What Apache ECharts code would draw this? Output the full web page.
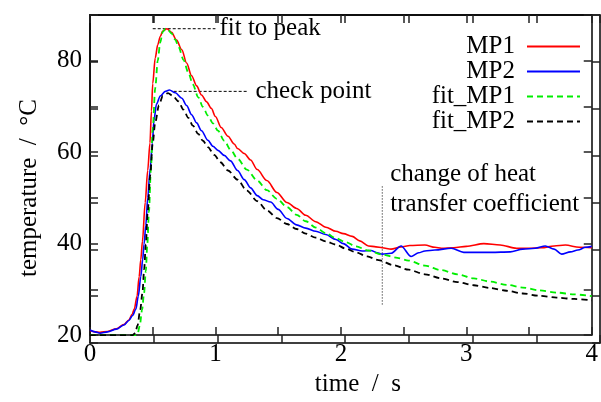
<!DOCTYPE html>
<html>
<head>
<meta charset="utf-8">
<script src="https://cdn.jsdelivr.net/npm/echarts@6/dist/echarts.min.js"></script>
<style>html,body{margin:0;padding:0;background:#fff;}#c{width:601px;height:402px;}</style>
</head>
<body>
<div id="c"></div>
<script>
// ---- data (time in s, temperature in °C) ----
const mp1Time = [0, 0.04, 0.08, 0.14, 0.21, 0.27, 0.31, 0.335, 0.353, 0.375, 0.392, 0.405, 0.418, 0.44, 0.46, 0.478, 0.49, 0.50, 0.52, 0.54, 0.56, 0.58, 0.614, 0.65, 0.69, 0.732, 0.77, 0.81, 0.85, 0.889, 0.93, 0.967, 1.0, 1.046, 1.1, 1.15, 1.176, 1.23, 1.28, 1.333, 1.41, 1.49, 1.57, 1.647, 1.72, 1.80, 1.88, 1.96, 2.02, 2.09, 2.15, 2.22, 2.28, 2.33, 2.40, 2.48, 2.55, 2.67, 2.75, 2.80, 2.90, 3.00, 3.14, 3.27, 3.40, 3.50, 3.60, 3.70, 3.79, 3.90, 4.00];
const mp1Temp = [21.0, 20.7, 20.6, 20.8, 21.4, 22.3, 23.3, 24.5, 25.7, 28.5, 32.8, 36.5, 40.5, 49, 56, 62, 69, 75, 80.6, 83.5, 85.3, 86.5, 87.0, 86.2, 84.5, 82.4, 79.5, 76.7, 74.5, 72.5, 71.0, 69.6, 67.8, 65.4, 63.5, 61.8, 60.8, 59.7, 58.3, 56.2, 53.8, 51.2, 49.0, 47.7, 46.2, 44.8, 43.6, 42.7, 42.2, 41.6, 40.6, 39.5, 39.3, 39.1, 38.8, 39.3, 39.6, 39.7, 39.2, 39.0, 39.1, 39.4, 40.0, 39.7, 39.0, 39.0, 39.1, 39.5, 39.7, 39.2, 39.1];

const mp2Time = [0, 0.04, 0.08, 0.14, 0.21, 0.27, 0.31, 0.34, 0.366, 0.385, 0.405, 0.42, 0.431, 0.445, 0.46, 0.48, 0.497, 0.51, 0.53, 0.56, 0.60, 0.633, 0.68, 0.732, 0.77, 0.81, 0.85, 0.889, 0.94, 0.98, 1.02, 1.07, 1.12, 1.176, 1.23, 1.28, 1.333, 1.38, 1.44, 1.50, 1.57, 1.647, 1.72, 1.80, 1.88, 1.96, 2.02, 2.09, 2.17, 2.24, 2.29, 2.33, 2.40, 2.48, 2.56, 2.62, 2.67, 2.75, 2.88, 2.98, 3.10, 3.20, 3.35, 3.45, 3.55, 3.63, 3.70, 3.76, 3.83, 3.89, 3.95, 4.00];
const mp2Temp = [21.1, 20.7, 20.4, 20.7, 21.3, 22.2, 23.2, 24.3, 25.7, 28.5, 32.8, 36.5, 39.9, 44, 50, 56.5, 62, 67, 70.5, 72.3, 73.3, 73.6, 73.0, 71.8, 70.2, 68.2, 66.4, 64.7, 62.6, 61.3, 60.4, 59.3, 58.1, 56.0, 54.0, 52.2, 50.5, 49.6, 49.1, 47.5, 45.5, 44.1, 43.4, 42.7, 42.0, 40.9, 40.0, 38.8, 38.4, 38.5, 38.0, 37.7, 37.9, 39.5, 37.2, 38.0, 38.4, 38.6, 39.0, 38.1, 38.1, 38.1, 38.2, 38.8, 39.0, 39.5, 38.8, 37.7, 38.2, 38.6, 39.2, 39.4];

const fit1Time = [0, 0.37, 0.38, 0.397, 0.415, 0.431, 0.445, 0.457, 0.47, 0.485, 0.50, 0.52, 0.54, 0.56, 0.58, 0.60, 0.62, 0.65, 0.68, 0.706, 0.745, 0.784, 0.82, 0.863, 0.90, 0.94, 0.98, 1.02, 1.07, 1.124, 1.176, 1.25, 1.333, 1.41, 1.49, 1.57, 1.647, 1.72, 1.80, 1.88, 1.96, 2.04, 2.12, 2.22, 2.33, 2.45, 2.54, 2.67, 2.80, 2.93, 3.06, 3.19, 3.32, 3.45, 3.58, 3.72, 3.86, 4.00];
const fit1Temp = [20, 20, 20.3, 22.1, 25.5, 29.2, 34, 39.9, 47, 56, 65, 74, 80, 84, 86.3, 87.0, 86.8, 86.0, 84.6, 83.0, 80.2, 77.4, 74.8, 72.0, 69.9, 68.0, 66.3, 64.7, 62.5, 60.4, 58.6, 56.2, 53.8, 51.7, 49.8, 48.0, 46.3, 44.9, 43.5, 42.3, 41.2, 40.3, 39.4, 38.5, 37.6, 36.9, 36.3, 35.2, 34.2, 33.3, 32.4, 31.7, 31.0, 30.4, 29.8, 29.3, 28.9, 28.5];

const fit2Time = [0, 0.34, 0.36, 0.379, 0.40, 0.418, 0.432, 0.445, 0.46, 0.48, 0.50, 0.52, 0.55, 0.58, 0.622, 0.66, 0.706, 0.745, 0.784, 0.82, 0.863, 0.90, 0.94, 0.99, 1.04, 1.10, 1.176, 1.25, 1.333, 1.41, 1.49, 1.57, 1.647, 1.72, 1.80, 1.88, 1.96, 2.04, 2.12, 2.21, 2.30, 2.42, 2.54, 2.67, 2.80, 2.93, 3.06, 3.19, 3.32, 3.45, 3.58, 3.72, 3.86, 4.00];
const fit2Temp = [20, 20, 20.4, 22.1, 25.5, 29.2, 34.5, 39.9, 47, 55, 62, 66.5, 70.3, 72.3, 72.9, 72.3, 71.1, 69.3, 67.5, 65.8, 64.0, 62.5, 61.1, 59.4, 57.8, 56.0, 54.0, 51.6, 49.3, 47.3, 45.6, 44.3, 43.2, 42.2, 41.3, 40.5, 39.8, 38.9, 38.1, 37.2, 36.4, 35.3, 34.3, 33.3, 32.4, 31.6, 30.9, 30.3, 29.7, 29.1, 28.6, 28.2, 27.9, 27.6];

// annotations (data coordinates)
const peakLineTime = [0.5, 1.0];
const peakLineTemp = [87, 87];
const checkLineTime = [0.667, 1.255];
const checkLineTemp = [73.3, 73.3];
const changeLineTime = [2.33, 2.33];
const changeLineTemp = [26.7, 52.6];

const seriesNames = ['MP1', 'MP2', 'fit_MP1', 'fit_MP2'];
const xTicks = { min: 0, max: 4, step: 0.5 };
const yTicks = { min: 20, max: 90, step: 10 };

const zip = (a, b) => a.map((v, i) => [v, b[i]]);
const FONT = 'Liberation Serif';
const FS = 25;
const GRID = { left: 90, right: 1, top: 15, bottom: 59 };

const chart = echarts.init(document.getElementById('c'));

const tickStyle = { show: true, inside: true, length: 8, lineStyle: { color: '#222', width: 1.5 } };

function axisBase() {
  return {
    type: 'value',
    axisLine: { show: true, onZero: false, lineStyle: { color: '#000', width: 1.5 } },
    axisTick: JSON.parse(JSON.stringify(tickStyle)),
    splitLine: { show: false }
  };
}

// plain tick-only axis on an overlay grid (no labels, no name)
function tickAxis(gridIndex, pos, range) {
  return {
    gridIndex: gridIndex, type: 'value', position: pos,
    min: range.min, max: range.max, interval: range.step,
    axisLine: { show: true, onZero: false, lineStyle: { color: '#000', width: 1.5 } },
    axisTick: JSON.parse(JSON.stringify(tickStyle)),
    axisLabel: { show: false },
    splitLine: { show: false }
  };
}

function annot(name, t, v, style, labelText, dist, extra) {
  const s = {
    name: name, type: 'line', data: zip(t, v), symbol: 'none', silent: true,
    lineStyle: style, z: 1, animation: false
  };
  if (labelText) {
    s.endLabel = Object.assign({ show: true, formatter: labelText, distance: dist, color: '#000',
      fontFamily: FONT, fontSize: FS }, extra || {});
  }
  return s;
}

const option = {
  animation: false,
  backgroundColor: '#fff',
  grid: [Object.assign({}, GRID), Object.assign({}, GRID)],
  legend: {
    data: seriesNames,
    orient: 'vertical',
    align: 'right',
    right: 20,
    top: 34,
    padding: 0,
    itemGap: 0,
    itemWidth: 53,
    itemHeight: 14,
    selectedMode: false,
    itemStyle: { opacity: 0 },
    textStyle: { fontFamily: FONT, fontSize: FS, color: '#000', lineHeight: 21, padding: [0, 7, 0, 0] }
  },
  xAxis: [
    Object.assign(axisBase(), {
      gridIndex: 0, position: 'bottom', min: xTicks.min, max: xTicks.max, interval: xTicks.step,
      name: 'time  /  s', nameLocation: 'middle', nameGap: 31,
      nameTextStyle: { fontFamily: FONT, fontSize: FS, color: '#000', padding: [0, 0, 0, 34] },
      axisLabel: { fontFamily: FONT, fontSize: FS, color: '#000', margin: 7,
        formatter: v => (Math.abs(v - Math.round(v)) < 1e-9 ? String(Math.round(v)) : '') }
    }),
    tickAxis(0, 'top', xTicks),
    tickAxis(1, 'bottom', xTicks),
    tickAxis(1, 'top', xTicks)
  ],
  yAxis: [
    Object.assign(axisBase(), {
      gridIndex: 0, position: 'left', min: yTicks.min, max: yTicks.max, interval: yTicks.step,
      name: 'temperature  /  °C', nameLocation: 'middle', nameGap: 48, nameRotate: 90,
      nameTextStyle: { fontFamily: FONT, fontSize: FS, color: '#000', padding: [0, 26, 0, 0] },
      axisLabel: { fontFamily: FONT, fontSize: FS, color: '#000', margin: 8,
        formatter: v => (v % 20 === 0 ? String(v) : '') }
    }),
    tickAxis(0, 'right', yTicks),
    tickAxis(1, 'left', yTicks),
    tickAxis(1, 'right', yTicks)
  ],
  series: [
    { name: seriesNames[0], type: 'line', data: zip(mp1Time, mp1Temp), symbol: 'none',
      smooth: 0.3, smoothMonotone: 'x', color: '#ff0000',
      lineStyle: { color: '#ff0000', width: 1.6 }, z: 3 },
    { name: seriesNames[1], type: 'line', data: zip(mp2Time, mp2Temp), symbol: 'none',
      smooth: 0.3, smoothMonotone: 'x', color: '#0000ff',
      lineStyle: { color: '#0000ff', width: 1.6 }, z: 3 },
    { name: seriesNames[2], type: 'line', data: zip(fit1Time, fit1Temp), symbol: 'none',
      smooth: 0.3, smoothMonotone: 'x', color: '#00ee00',
      lineStyle: { color: '#00ee00', width: 1.8, type: [6, 4] }, z: 4 },
    { name: seriesNames[3], type: 'line', data: zip(fit2Time, fit2Temp), symbol: 'none',
      smooth: 0.3, smoothMonotone: 'x', color: '#000000',
      lineStyle: { color: '#000000', width: 1.8, type: [6, 4] }, z: 4 },
    annot('peakNote', peakLineTime, peakLineTemp, { color: '#000', width: 1, type: [3, 2] }, 'fit to peak', 4),
    annot('checkNote', checkLineTime, checkLineTemp, { color: '#000', width: 1, type: [3, 2] }, 'check point', 8),
    annot('changeNote', changeLineTime, changeLineTemp, { color: '#000', width: 1, type: [1, 2] },
      'change of heat\ntransfer coefficient', 8, { lineHeight: 30, offset: [0, 3] })
  ]
};

chart.setOption(option);
</script>
</body>
</html>
